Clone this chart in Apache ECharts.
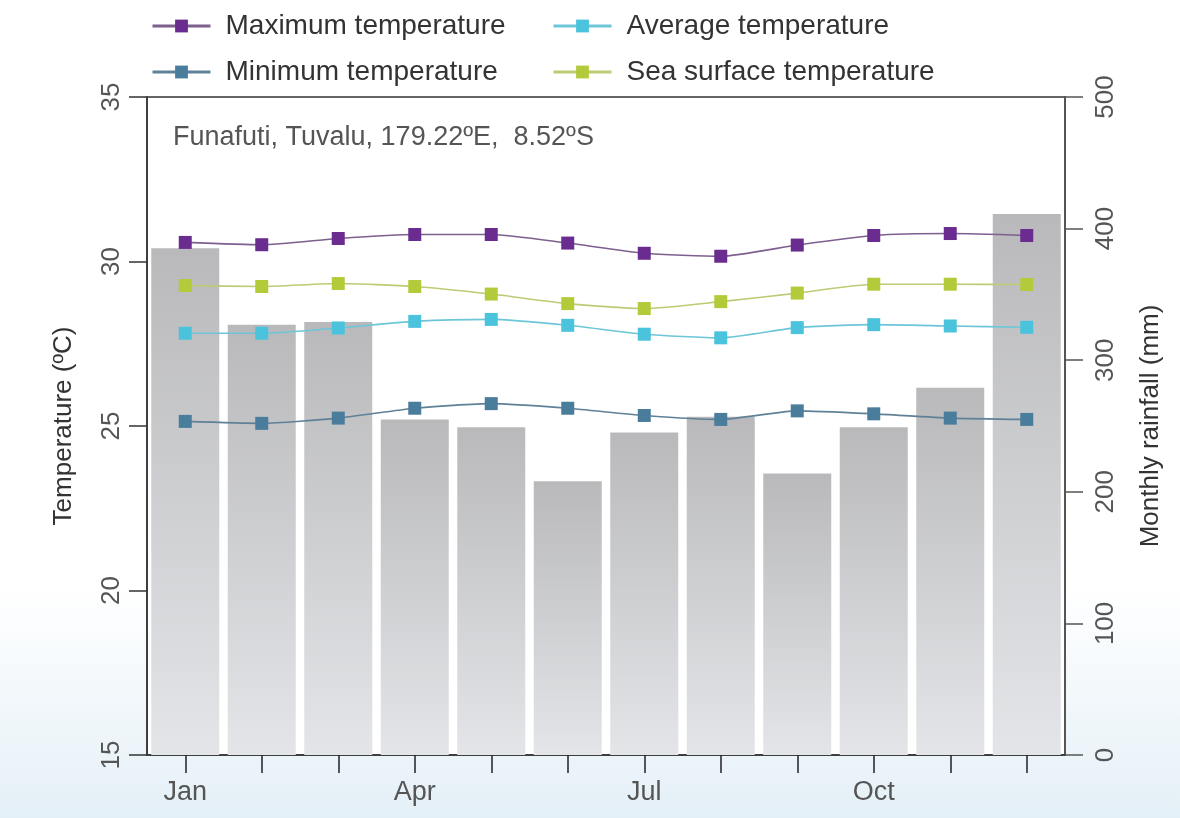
<!DOCTYPE html>
<html>
<head>
<meta charset="utf-8">
<style>html,body{margin:0;padding:0;background:#fff}#c{width:1180px;height:818px}</style>
<script src="https://cdn.jsdelivr.net/npm/echarts@6/dist/echarts.min.js"></script>
</head>
<body>
<div id="c"></div>
<script>
var months = ['Jan','Feb','Mar','Apr','May','Jun','Jul','Aug','Sep','Oct','Nov','Dec'];
var rainfall = [385, 327, 329, 255, 249, 208, 245, 257, 214, 249, 279, 411];
var maxTemp = [30.58, 30.51, 30.70, 30.82, 30.82, 30.56, 30.25, 30.16, 30.50, 30.79, 30.85, 30.79];
var avgTemp = [27.82, 27.82, 27.98, 28.18, 28.24, 28.06, 27.79, 27.68, 27.99, 28.08, 28.04, 28.00];
var minTemp = [25.14, 25.08, 25.24, 25.54, 25.68, 25.54, 25.32, 25.20, 25.46, 25.37, 25.24, 25.20];
var seaTemp = [29.27, 29.24, 29.33, 29.24, 29.01, 28.72, 28.57, 28.78, 29.04, 29.31, 29.31, 29.30];
var tempTicks = [15, 20, 25, 30, 35];
var rainTicks = [0, 100, 200, 300, 400, 500];

var FONT = "'Liberation Sans', Arial, sans-serif";
var chart = echarts.init(document.getElementById('c'), null, {renderer: 'canvas'});

function legendItem(name, left, top) {
  return {
    data: [name], left: left, top: top, itemWidth: 58, itemHeight: 16,
    lineStyle: {width: 3},
    textStyle: {fontSize: 28, color: '#333', fontFamily: FONT, padding: [0, 0, 0, 10]},
    selectedMode: false
  };
}
function lineSeries(name, data, marker, line) {
  return {
    name: name, type: 'line', yAxisIndex: 0, data: data,
    symbol: 'rect', symbolSize: 13, smooth: 0.2,
    itemStyle: {color: marker},
    lineStyle: {color: line, width: 1.6},
    z: 5
  };
}

chart.setOption({
  animation: false,
  backgroundColor: 'transparent',
  graphic: [{
    type: 'rect', z: -100, silent: true,
    shape: {x: 0, y: 0, width: 1180, height: 818},
    style: {fill: new echarts.graphic.LinearGradient(0, 0, 0, 1, [
      {offset: 0, color: '#ffffff'}, {offset: 0.72, color: '#ffffff'}, {offset: 1, color: '#e4f0f7'}])}
  }],
  title: {
    text: 'Funafuti, Tuvalu, 179.22ºE,  8.52ºS', left: 168, top: 119,
    textStyle: {fontSize: 27, fontWeight: 'normal', color: '#555', fontFamily: FONT}
  },
  legend: [
    legendItem('Maximum temperature', 146, 7),
    legendItem('Average temperature', 547, 7),
    legendItem('Minimum temperature', 146, 53),
    legendItem('Sea surface temperature', 547, 53)
  ],
  grid: {left: 147, right: 115, top: 97, bottom: 63, show: true, backgroundColor: '#fff', borderColor: '#333', borderWidth: 1.5},
  xAxis: {
    type: 'category', data: months, boundaryGap: true,
    axisLine: {lineStyle: {color: '#333', width: 1.5}},
    axisTick: {show: true, interval: 0, alignWithLabel: true, length: 18, lineStyle: {color: '#222', width: 1.5}},
    axisLabel: {interval: 2, fontSize: 27, color: '#555', margin: 24, fontFamily: FONT}
  },
  yAxis: [{
    type: 'value', min: tempTicks[0], max: tempTicks[tempTicks.length - 1], interval: 5,
    name: 'Temperature (ºC)', nameLocation: 'middle', nameGap: 70, nameRotate: 90,
    nameTextStyle: {fontSize: 26, color: '#333', fontFamily: FONT},
    axisLine: {show: true, lineStyle: {color: '#333', width: 1.5}},
    axisTick: {show: true, length: 18, lineStyle: {color: '#333', width: 1.5}},
    axisLabel: {rotate: 90, fontSize: 26, color: '#555', margin: 22, fontFamily: FONT},
    splitLine: {show: false}
  }, {
    type: 'value', min: rainTicks[0], max: rainTicks[rainTicks.length - 1], interval: 100, position: 'right',
    name: 'Monthly rainfall (mm)', nameLocation: 'middle', nameGap: 73, nameRotate: 90,
    nameTextStyle: {fontSize: 26, color: '#333', fontFamily: FONT},
    axisLine: {show: true, lineStyle: {color: '#555', width: 2}},
    axisTick: {show: true, length: 18, lineStyle: {color: '#555', width: 1.5}},
    axisLabel: {rotate: 90, fontSize: 26, color: '#555', margin: 28, fontFamily: FONT},
    splitLine: {show: false}
  }],
  series: [{
    name: 'Monthly rainfall', type: 'bar', yAxisIndex: 1, data: rainfall, barWidth: 68,
    itemStyle: {color: new echarts.graphic.LinearGradient(0, 0, 0, 1, [
      {offset: 0, color: '#b9b9bb'}, {offset: 1, color: '#e3e5e8'}])},
    z: 2
  },
    lineSeries('Maximum temperature', maxTemp, '#6a2c8e', '#7d5f90'),
    lineSeries('Average temperature', avgTemp, '#4bc3dd', '#6cc6d8'),
    lineSeries('Minimum temperature', minTemp, '#4a7d9c', '#5f8197'),
    lineSeries('Sea surface temperature', seaTemp, '#b3cb3a', '#bccb74')
  ]
});
</script>
</body>
</html>
